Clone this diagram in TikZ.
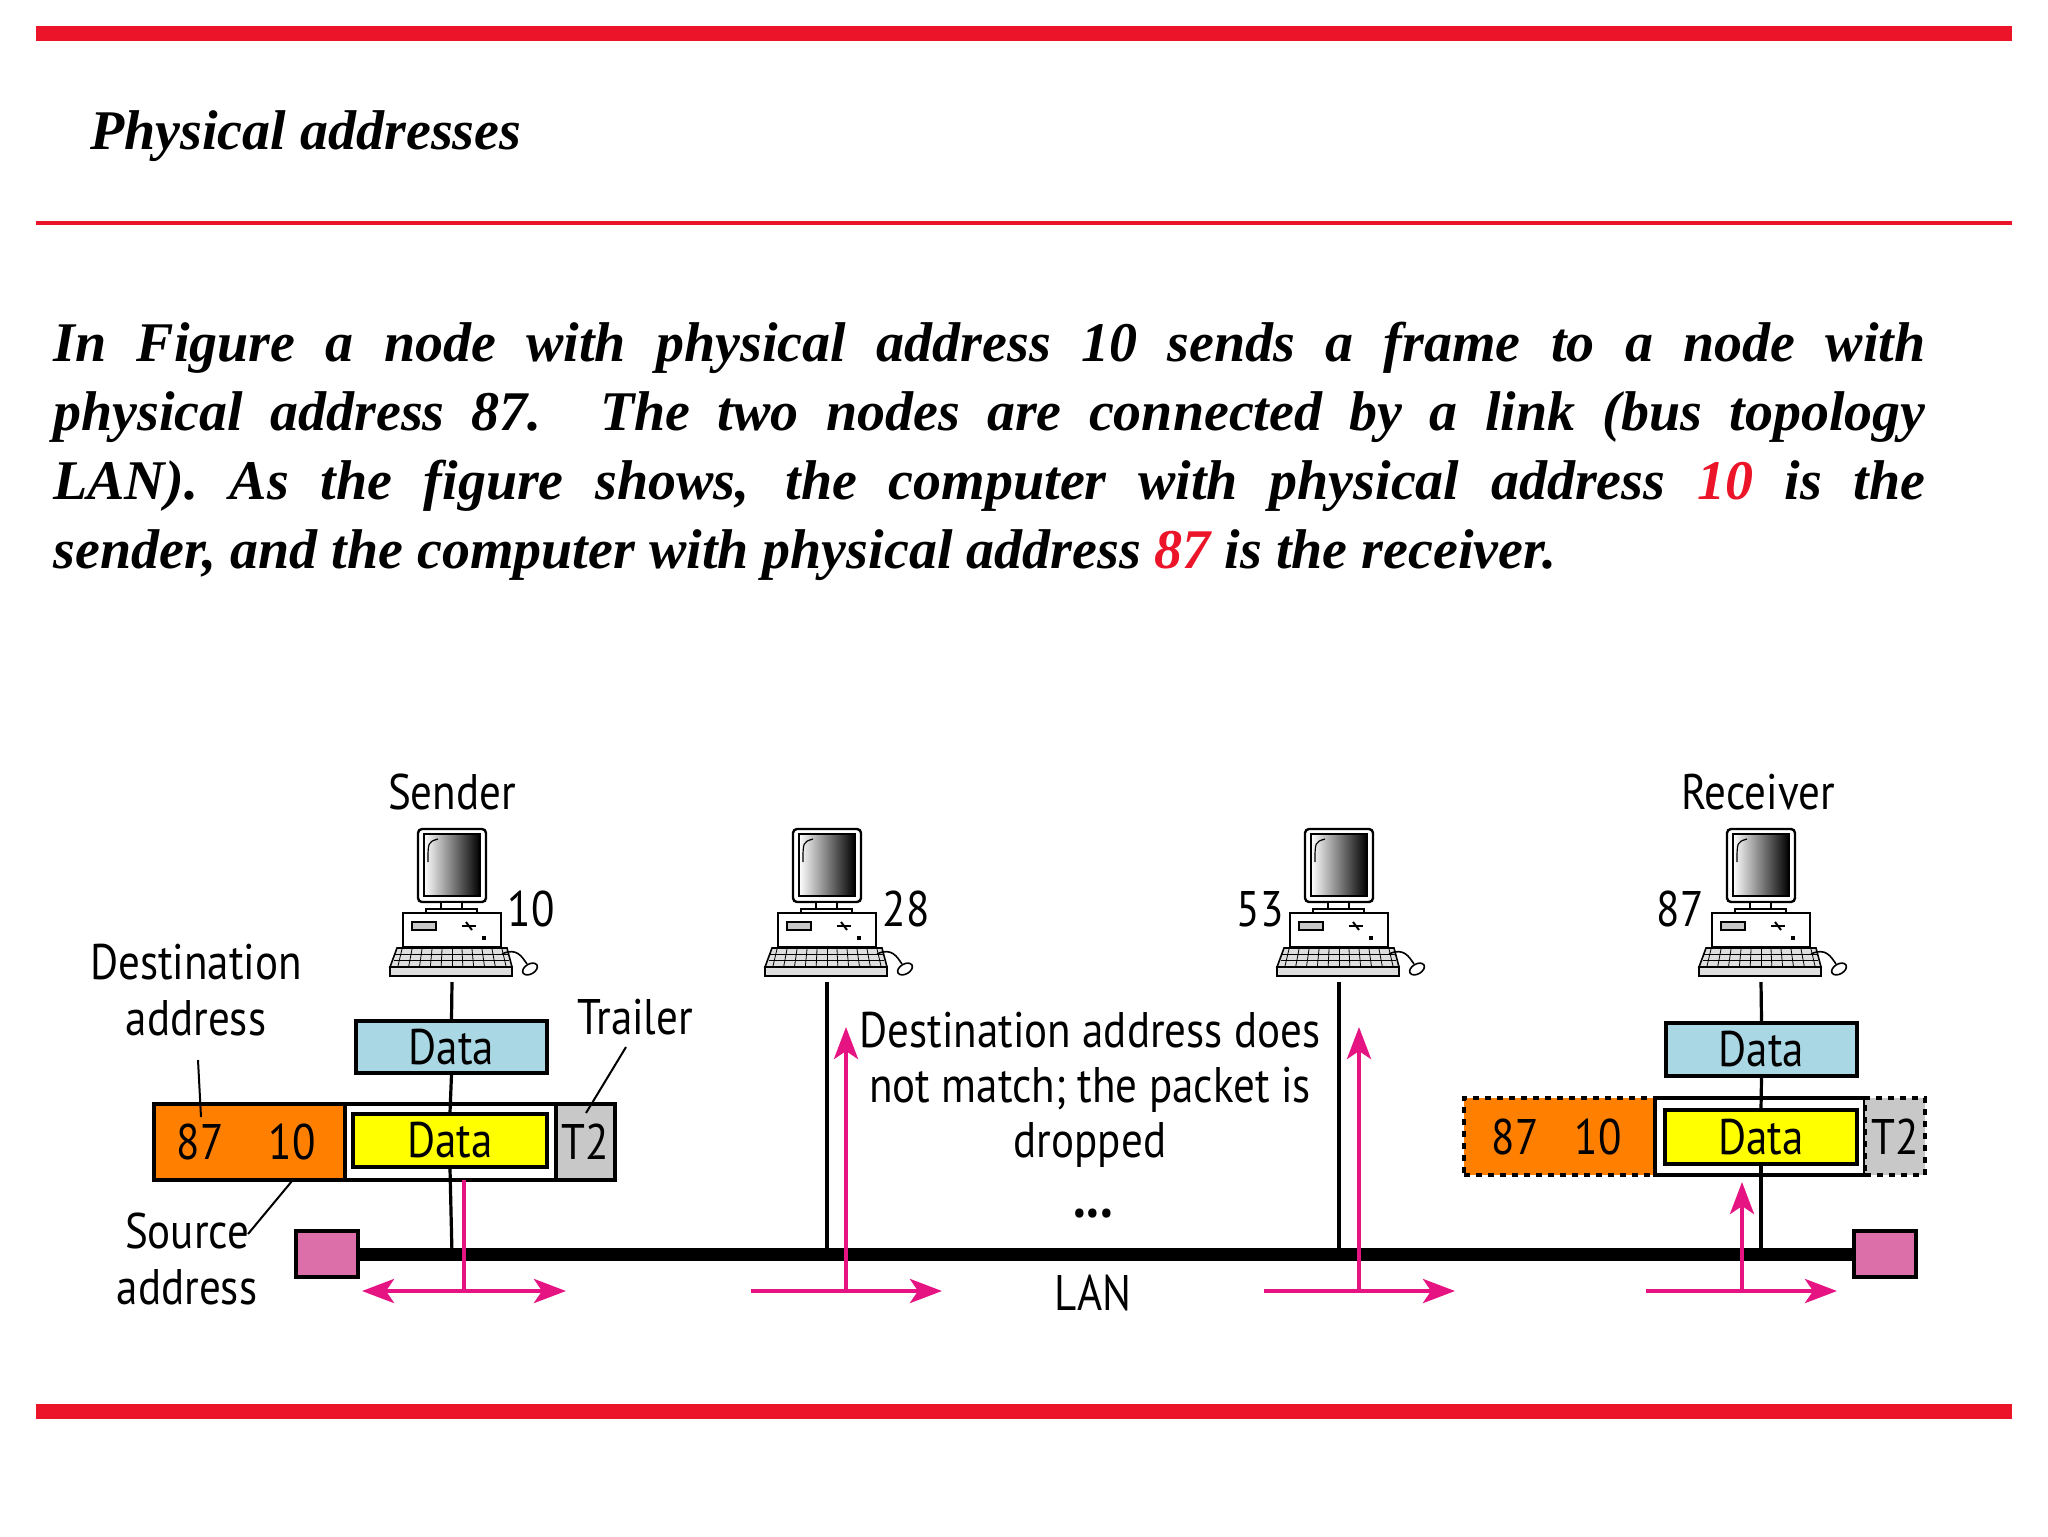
\documentclass[tikz,border=0pt]{standalone}
\usepackage{fontspec}
\setmainfont{Liberation Serif}
\newfontfamily\dsans[FakeStretch=0.86]{PT Sans}
\usetikzlibrary{arrows.meta}
\definecolor{rred}{RGB}{235,20,40}
\definecolor{orng}{RGB}{255,128,0}
\definecolor{yel}{RGB}{255,255,0}
\definecolor{lblue}{RGB}{170,215,228}
\definecolor{lgrey}{RGB}{200,200,200}
\definecolor{pnk}{RGB}{230,20,130}
\definecolor{term}{RGB}{220,110,170}
\begin{document}
\begin{tikzpicture}[x=0.5pt,y=-0.5pt,
  lbl/.style={font=\dsans\fontsize{25}{30}\selectfont,inner sep=0pt},
  box/.style={draw=black,line width=1.6pt,inner sep=0pt,font=\dsans\fontsize{25}{30}\selectfont},
  parr/.style={pnk,line width=2.2pt,-{Stealth[length=16pt,width=12pt,inset=4pt]}},
  pline/.style={pnk,line width=2.2pt},
  lead/.style={black,line width=1pt},
  drop/.style={black,line width=1.6pt},
  pics/computer/.style={code={
    \draw[black,line width=1.2pt,fill=white,rounded corners=2pt] (-34,-153) rectangle (34,-80);
    \shade[left color=white,right color=black,draw=black,line width=0.8pt] (-28,-148) rectangle (28,-86);
    \draw[line width=0.6pt] (-24,-120) .. controls (-24,-140) .. (-14,-143);
    \draw[fill=white,line width=0.8pt] (-11,-80) rectangle (10,-73);
    \draw[fill=white,line width=0.8pt] (-26,-73) rectangle (25,-69);
    \draw[fill=white,line width=0.8pt] (-49,-69) rectangle (49,-35);
    \draw[fill=lgrey,line width=0.8pt] (-40,-60) rectangle (-16,-52);
    \draw[line width=1pt] (10,-56) -- (24,-56); \draw[line width=1pt] (14,-60)--(20,-52);
    \fill (30,-46) rectangle (34,-42);
    \draw[fill=lgrey!60,line width=0.8pt] (-55,-34) -- (55,-34) -- (60,-15) -- (-62,-15) -- cycle;
    \draw[fill=lgrey!60,line width=0.8pt] (-62,-15) rectangle (60,-6);
    \foreach \i in {-28,-22}{\draw[line width=0.4pt] (-58,\i) -- (57,\i);}
    \foreach \k in {-50,-40,...,50}{\draw[line width=0.4pt] (\k,-33) -- (\k*1.08,-16);}
    \draw[line width=0.8pt] (50,-28) .. controls (65,-35) and (70,-25) .. (75,-18);
    \draw[fill=white,line width=0.8pt,rotate around={30:(78,-13)}] (78,-13) ellipse (8 and 5);
  }}]
\useasboundingbox (0,0) rectangle (2048,1536);
% rules
\fill[rred] (36,26) rectangle (2012,41);
\fill[rred] (36,221) rectangle (2012,225);
\fill[rred] (36,1404) rectangle (2012,1419);
\node[anchor=base west,inner sep=0pt,font=\bfseries\itshape\fontsize{28}{34}\selectfont] (title) at (90,149) {Physical addresses};
\node[anchor=north west,inner sep=0pt,text width=936pt,align=justify,font=\bfseries\itshape\fontsize{28}{34.5}\selectfont] (para) at (53,322)
{In Figure a node with physical address 10 sends a frame to a node with\linebreak physical address 87. The two nodes are connected by a link (bus topology\linebreak LAN). As the figure shows, the computer with physical address \textcolor{rred}{10} is the\linebreak sender, and the computer with physical address \textcolor{rred}{87} is the receiver.};
% bus
\draw[line width=6.5pt] (358,1254) -- (1854,1254);
\node[draw=black,line width=1.6pt,fill=term,minimum width=31pt,minimum height=23pt,inner sep=0pt] (tl) at (327,1254) {};
\node[draw=black,line width=1.6pt,fill=term,minimum width=31pt,minimum height=23pt,inner sep=0pt] (tr) at (1885,1254) {};
% computers
\foreach \n/\x in {s/452,a/827,b/1339,r/1761}{
  \pic at (\x,982) {computer};
  \coordinate (c\n) at (\x,982);
  \coordinate (b\n) at (\x,1254);
}
\node[lbl] (snd) at (452,792) {Sender};
\node[lbl] (rcv) at (1758,792) {Receiver};
\node[lbl] at (531,909) {10};
\node[lbl] at (906,909) {28};
\node[lbl] at (1260,909) {53};
\node[lbl] at (1680,909) {87};
% sender frame
\node[box,fill=lblue,minimum width=95.5pt,minimum height=26pt] (sdata) at (451.5,1047) {Data};
\node[box,fill=orng,minimum width=95.5pt,minimum height=38pt] (shdr) at (249.5,1142) {};
\node[lbl] (s87) at (200,1142) {87};
\node[lbl] (s10) at (292,1142) {10};
\node[box,fill=white,minimum width=105.5pt,minimum height=38pt] (sbody) at (450.5,1142) {};
\node[box,fill=yel,minimum width=97pt,minimum height=26.5pt] (syel) at (450,1140.5) {Data};
\node[box,fill=lgrey,minimum width=29.5pt,minimum height=38pt] (st2) at (585.5,1142) {T2};
\draw[drop] (cs) -- (sdata.north);
\draw[drop] (sdata.south) -- (syel.north);
\draw[drop] (syel.south) -- (bs);
% receiver frame
\node[box,fill=lblue,minimum width=95.5pt,minimum height=26.5pt] (rdata) at (1761.5,1049.5) {Data};
\node[box,dashed,fill=orng,minimum width=95.5pt,minimum height=38.5pt] (rhdr) at (1559.5,1136.5) {};
\node[lbl] (r87) at (1515,1136.5) {87};
\node[lbl] (r10) at (1598,1136.5) {10};
\node[box,fill=white,minimum width=105pt,minimum height=38.5pt] (rbody) at (1760,1136.5) {};
\node[box,fill=yel,minimum width=96pt,minimum height=27pt] (ryel) at (1761,1137) {Data};
\node[box,dashed,fill=lgrey,minimum width=30pt,minimum height=38.5pt] (rt2) at (1895,1136.5) {T2};
\draw[drop] (cr) -- (rdata.north);
\draw[drop] (rdata.south) -- (ryel.north);
\draw[drop] (ryel.south) -- (br);
\draw[drop] (ca) -- (ba);
\draw[drop] (cb) -- (bb);
% pink arrows
\coordinate (p1) at (464,1291); \coordinate (p1l) at (362,1291); \coordinate (p1r) at (566,1291); \coordinate (p1t) at (464,1180);
\draw[parr] (p1) -- (p1l); \draw[parr] (p1) -- (p1r); \draw[pline] (p1) -- (p1t);
\coordinate (p2l) at (751,1291); \coordinate (p2) at (846,1291); \coordinate (p2r) at (942,1291); \coordinate (p2t) at (846,1027);
\draw[parr] (p2l) -- (p2r); \draw[parr] (p2) -- (p2t);
\coordinate (p3l) at (1264,1291); \coordinate (p3) at (1359,1291); \coordinate (p3r) at (1455,1291); \coordinate (p3t) at (1359,1027);
\draw[parr] (p3l) -- (p3r); \draw[parr] (p3) -- (p3t);
\coordinate (p4l) at (1646,1291); \coordinate (p4) at (1742,1291); \coordinate (p4r) at (1837,1291); \coordinate (p4t) at (1742,1182);
\draw[parr] (p4l) -- (p4r); \draw[parr] (p4) -- (p4t);
% labels
\node[lbl,align=center,font=\dsans\fontsize{25}{27.5}\selectfont] (msg) at (1090,1090) {Destination address does\\not match; the packet is\\dropped};
\node[lbl,font=\dsans\bfseries\fontsize{30}{30}\selectfont] (dots) at (1093,1214) {...};
\node[lbl] (lan) at (1093,1293) {LAN};
\node[lbl,align=center,font=\dsans\fontsize{25}{28}\selectfont] (dst) at (196,990) {Destination\\address};
\node[lbl,align=center,font=\dsans\fontsize{25}{28}\selectfont] (src) at (187,1259) {Source\\address};
\node[lbl] (trl) at (635,1017) {Trailer};
\coordinate (d1) at (198,1060); \coordinate (d2) at (201,1117);
\draw[lead] (d1) -- (d2);
\coordinate (s1) at (248,1234); \coordinate (s2) at (292,1181);
\draw[lead] (s1) -- (s2);
\coordinate (t1) at (626,1047); \coordinate (t2) at (586,1113);
\draw[lead] (t1) -- (t2);
\end{tikzpicture}
\end{document}
